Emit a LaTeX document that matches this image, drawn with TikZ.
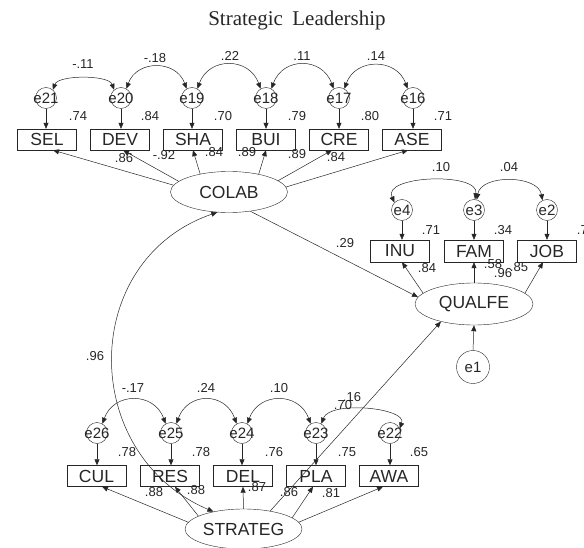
\documentclass[tikz,border=0pt]{standalone}
\usepackage{fontspec}
\setmainfont{Liberation Sans}
\newfontfamily\titlefont{Liberation Serif}
\usetikzlibrary{shapes.geometric,arrows.meta}
\newcommand{\errtxt}[1]{\makebox[0pt]{#1}}
\begin{document}
\begin{tikzpicture}[x=1pt,y=1pt,
  every node/.style={text=black!85},
  obs/.style={draw=black!85, rectangle, minimum width=59pt, minimum height=21pt, inner sep=0pt, font=\fontsize{17.5}{17.5}\selectfont},
  obsr/.style={obs, minimum height=22pt},
  lat/.style={draw=black!85, ellipse, minimum width=117pt, minimum height=41pt, inner sep=0pt, font=\fontsize{17.5}{17.5}\selectfont},
  err/.style={draw=black!85, circle, minimum size=21pt, inner sep=0pt, font=\fontsize{15}{15}\selectfont},
  lbl/.style={inner sep=0pt, font=\fontsize{13}{13}\selectfont},
  arr/.style={draw=black!85, -{Triangle[length=6pt,width=5pt]}, line width=0.5pt},
  cov/.style={draw=black!85, {Triangle[length=6pt,width=5pt]}-{Triangle[length=6pt,width=5pt]}, line width=0.5pt}
]
\useasboundingbox (0,0) rectangle (584,-548);

% title
\node[anchor=base, inner sep=0pt, font=\titlefont\fontsize{21}{21}\selectfont] (title) at (297,-25.5) {Strategic\hspace{0.45em}Leadership};

% ---------- COLAB block ----------
\node[err] (e21) at (46,-98) {\errtxt{e21}};
\node[err] (e20) at (121,-98) {\errtxt{e20}};
\node[err] (e19) at (192,-98) {\errtxt{e19}};
\node[err] (e18) at (266,-98) {\errtxt{e18}};
\node[err] (e17) at (339,-98) {\errtxt{e17}};
\node[err] (e16) at (413,-98) {\errtxt{e16}};

\node[obs] (sel) at (47,-139.5) {SEL};
\node[obs] (dev) at (120,-139.5) {DEV};
\node[obs] (sha) at (193,-139.5) {SHA};
\node[obs] (bui) at (266,-139.5) {BUI};
\node[obs] (cre) at (339,-139.5) {CRE};
\node[obs] (ase) at (412,-139.5) {ASE};

\node[lat] (colab) at (229,-192) {COLAB};

\foreach \e/\b in {e21/sel,e20/dev,e19/sha,e18/bui,e17/cre,e16/ase}
  \draw[arr] (\e) -- (\e |- \b.north);

\draw[cov] (e21.50) .. controls +(70:16) and +(110:16) .. (e20.130);
\draw[cov] (e20.60) .. controls +(70:31) and +(110:31) .. (e19.120);
\draw[cov] (e19.60) .. controls +(70:34) and +(110:34) .. (e18.120);
\draw[cov] (e18.60) .. controls +(70:34) and +(110:34) .. (e17.120);
\draw[cov] (e17.60) .. controls +(70:33) and +(110:33) .. (e16.120);

\draw[arr] (colab.173) -- ([xshift=6pt]sel.south);
\draw[arr] (colab.168) -- ([xshift=3pt]dev.south);
\draw[arr] (colab.148) -- (sha.south);
\draw[arr] (colab.31) -- (bui.south);
\draw[arr] (colab.13) -- ([xshift=-7pt]cre.south);
\draw[arr] (colab.5) -- ([xshift=-4pt]ase.south);

\node[lbl] (c1) at (83,-64) {-.11};
\node[lbl] (c2) at (155,-58) {-.18};
\node[lbl] (c3) at (230,-56) {.22};
\node[lbl] (c4) at (302,-56) {.11};
\node[lbl] (c5) at (376,-56) {.14};

\node[lbl] (r1) at (78,-116) {.74};
\node[lbl] (r2) at (150,-116) {.84};
\node[lbl] (r3) at (223,-116) {.70};
\node[lbl] (r4) at (297,-116) {.79};
\node[lbl] (r5) at (370,-116) {.80};
\node[lbl] (r6) at (443,-116) {.71};

\node[lbl] (l1) at (124,-158) {.86};
\node[lbl] (l2) at (164,-155) {-.92};
\node[lbl] (l3) at (214,-152) {.84};
\node[lbl] (l4) at (247,-152) {.89};
\node[lbl] (l5) at (297,-154) {.89};
\node[lbl] (l6) at (336,-157) {.84};

% ---------- QUALFE block ----------
\node[err] (e4) at (402,-210) {\errtxt{e4}};
\node[err] (e3) at (474,-210) {\errtxt{e3}};
\node[err] (e2) at (547,-210) {\errtxt{e2}};

\node[obsr] (inu) at (400,-251) {INU};
\node[obsr] (fam) at (474,-251) {FAM};
\node[obsr] (job) at (547,-251) {JOB};

\node[lat, minimum width=118pt, minimum height=42pt] (qualfe) at (474,-304) {QUALFE};
\node[err, minimum size=33pt] (e1) at (473,-367) {\errtxt{e1}};

\foreach \e/\b in {e4/inu,e3/fam,e2/job}
  \draw[arr] (\e) -- (\e |- \b.north);

\draw[cov] (e4.135) .. controls +(115:30) and +(80:28) .. (e3.85);
\draw[cov] (e3.75) .. controls +(80:26) and +(100:26) .. (e2.115);

\draw[arr] (qualfe.168) -- ([xshift=2pt]inu.south);
\draw[arr] (qualfe.90) -- (fam.south);
\draw[arr] (qualfe.12) -- ([xshift=-4pt]job.south);
\draw[arr] (e1.north) -- (qualfe.south);
\draw[arr] (colab.-42) -- (qualfe.173);

\node[lbl] (q1) at (441,-167) {.10};
\node[lbl] (q2) at (509,-167) {.04};
\node[lbl] (q3) at (431,-230) {.71};
\node[lbl] (q4) at (503,-230) {.34};
\node[lbl] (q5) at (586,-230) {.73};
\node[lbl] (q6) at (345,-243) {.29};
\node[lbl] (q7) at (427,-268) {.84};
\node[lbl] (q8) at (493,-264) {.58};
\node[lbl] (q9) at (503,-273) {.96};
\node[lbl] (q10) at (519,-267) {.85};

% ---------- STRATEG block ----------
\node[err] (e26) at (97,-433) {\errtxt{e26}};
\node[err] (e25) at (171,-433) {\errtxt{e25}};
\node[err] (e24) at (242,-433) {\errtxt{e24}};
\node[err] (e23) at (316,-433) {\errtxt{e23}};
\node[err] (e22) at (390,-433) {\errtxt{e22}};

\node[obs] (cul) at (96.5,-476) {CUL};
\node[obs] (res) at (170,-476) {RES};
\node[obs] (del) at (243,-476) {DEL};
\node[obs] (pla) at (316,-476) {PLA};
\node[obs] (awa) at (389,-476) {AWA};

\node[lat, minimum height=40pt] (strateg) at (243.5,-529) {STRATEG};

\foreach \e/\b in {e26/cul,e25/res,e24/del,e23/pla,e22/awa}
  \draw[arr] (\e) -- (\e |- \b.north);

\draw[cov] (e26.60) .. controls +(70:34) and +(110:34) .. (e25.120);
\draw[cov] (e25.60) .. controls +(70:34) and +(110:34) .. (e24.120);
\draw[cov] (e24.60) .. controls +(70:34) and +(110:34) .. (e23.120);
\draw[cov] (e23.60) .. controls +(70:25) and +(70:22) .. (e22.25);

\draw[arr] (strateg.173) -- ([xshift=5.5pt]cul.south);
\draw[arr] (strateg.164) -- ([xshift=5pt]res.south);
\draw[arr] (strateg.90) -- (del.south);
\draw[arr] (strateg.13) -- ([xshift=-3pt]pla.south);
\draw[arr] (strateg.7) -- ([xshift=-6pt]awa.south);
\draw[arr] (strateg.34) -- (qualfe.208);

% COLAB <-> STRATEG covariance
\draw[cov] (colab.240) to[out=199,in=157,looseness=1.25] (strateg.150);

\node[lbl] (s0) at (95,-356) {.96};
\node[lbl] (s1) at (133,-388) {-.17};
\node[lbl] (s2) at (206,-388) {.24};
\node[lbl] (s3) at (279,-388) {.10};
\node[lbl] (s4) at (352,-397) {.16};
\node[lbl] (s5) at (343,-405) {.70};

\node[lbl] (t1) at (127,-452) {.78};
\node[lbl] (t2) at (201,-452) {.78};
\node[lbl] (t3) at (274,-452) {.76};
\node[lbl] (t4) at (347,-452) {.75};
\node[lbl] (t5) at (419,-452) {.65};

\node[lbl] (u1) at (154,-492) {.88};
\node[lbl] (u2) at (196,-490) {.88};
\node[lbl] (u3) at (257,-487) {.87};
\node[lbl] (u4) at (289,-492) {.86};
\node[lbl] (u5) at (331,-493) {.81};
\end{tikzpicture}
\end{document}
